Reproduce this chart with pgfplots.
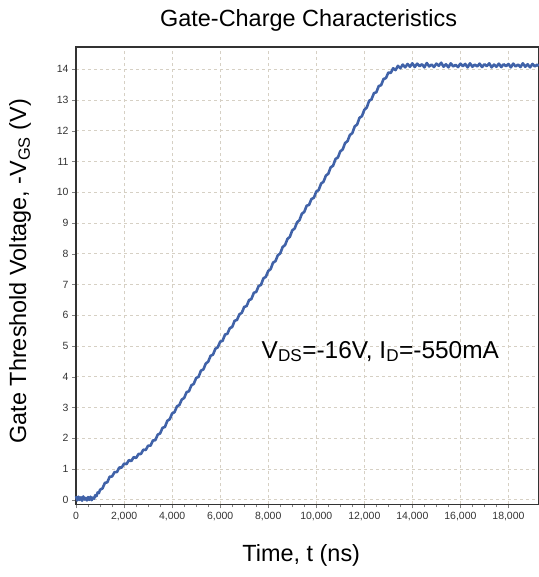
\documentclass[border=0pt]{standalone}
\usepackage{fontspec}
\setmainfont{Liberation Sans}
\usepackage{pgfplots}
\pgfplotsset{compat=1.18}
\definecolor{gcblue}{RGB}{64,98,168}
\definecolor{gcgrid}{RGB}{214,208,196}

\begin{document}
\begin{tikzpicture}
\begin{axis}[
  scale only axis, width=462bp, height=457bp,
  xmin=0, xmax=19250, ymin=-0.15, ymax=14.72,
  xtick={0,2000,...,18000}, ytick={0,1,...,14},
  minor x tick num=3,
  tick pos=left, tick align=outside,
  major tick length=4bp, minor tick length=3bp,
  scaled x ticks=false,
  /pgf/number format/1000 sep={,},
  /pgf/number format/assume math mode=true,
  tick label style={font=\fontsize{10.5}{12}\selectfont, color=black!80},
  grid=major,
  major grid style={gcgrid, dash pattern=on 3bp off 3bp, line width=0.7bp},
  axis line style={black!80, line width=1.2bp},
  clip=false,
  xlabel={Time, t (ns)},
  xlabel style={at={(axis description cs:0.487,-0.1105)}, anchor=center,
    font=\fontsize{23.5}{28}\selectfont},
  ylabel={Gate Threshold Voltage, -V\textsubscript{GS} (V)},
  ylabel style={at={(axis description cs:-0.121,0.51)}, anchor=center,
    font=\fontsize{23.5}{28}\selectfont},
]
\addplot[gcblue, line width=2.6bp, line join=round] coordinates {
(0,0.12) (50,-0.02) (100,0.10) (150,0.00) (200,0.08) (250,-0.03) (300,0.11)
(350,0.01) (400,0.06) (450,-0.02) (500,0.09) (550,0.00) (600,0.10) (650,-0.01)
(700,0.07) (750,0.04) (800,0.15) (850,0.12) (900,0.24) (950,0.22) (1000,0.33)
(1100,0.37) (1200,0.55) (1300,0.57) (1400,0.75) (1500,0.76) (1600,0.90)
(1700,0.90) (1800,1.05) (1900,1.05) (2000,1.18) (2100,1.16) (2200,1.29)
(2300,1.26) (2400,1.39) (2500,1.36) (2600,1.49) (2700,1.49) (2800,1.63)
(2900,1.62) (3000,1.76) (3100,1.76) (3200,1.93) (3300,1.94) (3400,2.12)
(3500,2.16) (3600,2.34) (3700,2.37) (3800,2.57) (3900,2.62) (4000,2.81)
(4100,2.85) (4200,3.04) (4300,3.08) (4400,3.26) (4500,3.31) (4600,3.50)
(4700,3.53) (4800,3.72) (4900,3.77) (5000,3.96) (5100,4.00) (5200,4.20)
(5300,4.24) (5400,4.43) (5500,4.49) (5600,4.68) (5700,4.72) (5800,4.91)
(5900,4.96) (6000,5.14) (6100,5.17) (6200,5.37) (6300,5.40) (6400,5.58)
(6500,5.62) (6600,5.82) (6700,5.85) (6800,6.03) (6900,6.08) (7000,6.27)
(7100,6.30) (7200,6.49) (7300,6.53) (7400,6.73) (7500,6.76) (7600,6.95)
(7700,6.99) (7800,7.20) (7900,7.25) (8000,7.44) (8100,7.50) (8200,7.71)
(8300,7.76) (8400,7.95) (8500,8.01) (8600,8.22) (8700,8.28) (8800,8.48)
(8900,8.55) (9000,8.76) (9100,8.82) (9200,9.02) (9300,9.09) (9400,9.30)
(9500,9.36) (9600,9.56) (9700,9.59) (9800,9.78) (9900,9.82) (10000,10.02)
(10100,10.07) (10200,10.28) (10300,10.34) (10400,10.54) (10500,10.60)
(10600,10.81) (10700,10.86) (10800,11.08) (10900,11.13) (11000,11.33)
(11100,11.39) (11200,11.60) (11300,11.66) (11400,11.86) (11500,11.92)
(11600,12.14) (11700,12.20) (11800,12.42) (11900,12.47) (12000,12.68)
(12100,12.75) (12200,12.97) (12300,13.02) (12400,13.22) (12500,13.25)
(12600,13.45) (12700,13.48) (12800,13.68) (12900,13.71) (13000,13.89)
(13100,13.88) (13200,14.03) (13300,13.97) (13400,14.11) (13500,14.03)
(13600,14.15) (13700,14.06) (13800,14.17) (13900,14.08) (14000,14.19)
(14100,14.07) (14200,14.18) (14300,14.10) (14400,14.16) (14500,14.06)
(14600,14.20) (14700,14.09) (14800,14.15) (14900,14.07) (15000,14.18)
(15100,14.11) (15200,14.21) (15300,14.08) (15400,14.16) (15500,14.06)
(15600,14.19) (15700,14.09) (15800,14.14) (15900,14.07) (16000,14.18)
(16100,14.10) (16200,14.17) (16300,14.06) (16400,14.19) (16500,14.08)
(16600,14.15) (16700,14.09) (16800,14.18) (16900,14.07) (17000,14.16)
(17100,14.10) (17200,14.19) (17300,14.06) (17400,14.15) (17500,14.08)
(17600,14.18) (17700,14.07) (17800,14.16) (17900,14.10) (18000,14.17)
(18100,14.06) (18200,14.18) (18300,14.09) (18400,14.15) (18500,14.07)
(18600,14.19) (18700,14.08) (18800,14.16) (18900,14.06) (19000,14.17)
(19100,14.09) (19200,14.15) (19250,14.10)
};
\node[anchor=base west, font=\fontsize{24.5}{29}\selectfont]
  at (axis cs:7583,4.61) {V\textsubscript{DS}=-16V, I\textsubscript{D}=-550mA};
\node[anchor=base, font=\fontsize{23.5}{28}\selectfont]
  at (rel axis cs:0.503,1) [yshift=21bp] {Gate-Charge Characteristics};
\end{axis}
\pgfresetboundingbox
\path[use as bounding box] (-76bp,-72.5bp) rectangle (462bp,504bp);
\end{tikzpicture}
\end{document}
